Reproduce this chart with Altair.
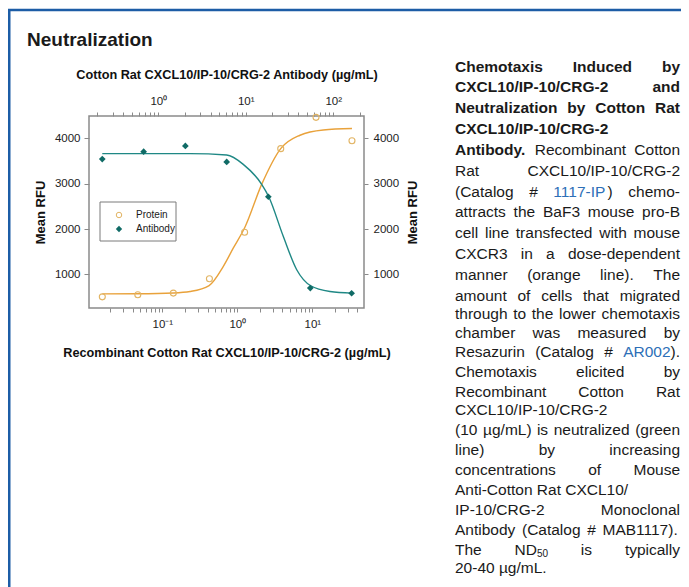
import re
import altair as alt
import pandas as pd

# ---------------- data ----------------
protein_conc = [0.0158, 0.047, 0.14, 0.424, 1.25, 3.79, 11.2, 33.8]
protein_rfu = [506, 551, 588, 904, 1928, 3771, 4460, 3944]
antibody_conc = [0.229, 0.68, 2.04, 6.05, 18.1, 54.6, 162]
antibody_rfu = [3542, 3705, 3830, 3478, 2711, 699, 585]

# fitted curves
protein_fit_conc = [0.0158, 0.047, 0.14, 0.234, 0.42, 0.65, 0.885, 1.27, 2.11, 3.79, 6.85, 14.0, 33.8]
protein_fit_rfu = [572, 575, 592, 624, 755, 1177, 1583, 2050, 2983, 3772, 4066, 4183, 4214]
antibody_fit_conc = [0.229, 2.30, 6.05, 9.36, 15.2, 18.3, 26.8, 38.2, 55.2, 91.7, 163.6]
antibody_fit_rfu = [3661, 3661, 3630, 3425, 2983, 2711, 1840, 1103, 750, 624, 588]

bottom_ticks = [0.02, 0.03, 0.04, 0.05, 0.06, 0.07, 0.08, 0.09,
                0.1, 0.2, 0.3, 0.4, 0.5, 0.6, 0.7, 0.8, 0.9,
                1, 2, 3, 4, 5, 6, 7, 8, 9, 10, 20, 30, 40]
top_ticks = [0.2, 0.3, 0.4, 0.5, 0.6, 0.7, 0.8, 0.9,
             1, 2, 3, 4, 5, 6, 7, 8, 9,
             10, 20, 30, 40, 50, 60, 70, 80, 90, 100, 200]
y_ticks = [1000, 2000, 3000, 4000]

legend_labels = ["Protein", "Antibody"]
heading = "Neutralization"
top_title = "Cotton Rat CXCL10/IP-10/CRG-2 Antibody (\u00b5g/mL)"
bottom_title = "Recombinant Cotton Rat CXCL10/IP-10/CRG-2 (\u00b5g/mL)"
y_title = "Mean RFU"

# caption: (base style, line text, justified)  *bold*  [link]  {subscript}
body_lines = [
    ("b", "Chemotaxis Induced by", True),
    ("b", "CXCL10/IP-10/CRG-2 and", True),
    ("b", "Neutralization by Cotton Rat", True),
    ("b", "CXCL10/IP-10/CRG-2", False),
    ("r", "*Antibody.* Recombinant Cotton", True),
    ("r", "Rat CXCL10/IP-10/CRG-2", True),
    ("r", "(Catalog # [1117-IP]) chemo-", True),
    ("r", "attracts the BaF3 mouse pro-B", True),
    ("r", "cell line transfected with mouse", True),
    ("r", "CXCR3 in a dose-dependent", True),
    ("r", "manner (orange line). The", True),
    ("r", "amount of cells that migrated", True),
    ("r", "through to the lower chemotaxis", True),
    ("r", "chamber was measured by", True),
    ("r", "Resazurin (Catalog # [AR002]).", True),
    ("r", "Chemotaxis elicited by", True),
    ("r", "Recombinant Cotton Rat", True),
    ("r", "CXCL10/IP-10/CRG-2", False),
    ("r", "(10 \u00b5g/mL) is neutralized (green", True),
    ("r", "line) by increasing", True),
    ("r", "concentrations of Mouse", True),
    ("r", "Anti-Cotton Rat CXCL10/", False),
    ("r", "IP-10/CRG-2 Monoclonal", True),
    ("r", "Antibody (Catalog # MAB1117).", True),
    ("r", "The ND{50} is typically", True),
    ("r", "20-40 \u00b5g/mL.", False),
]
line_y = [66.7, 87.3, 108.3, 129, 150, 170.7, 191.7, 212.3, 233.3, 254, 275,
          295.7, 314, 332.7, 351.7, 371.7, 391.7, 410, 430, 450, 470, 490,
          510, 530, 550, 568.3]

# ---------------- styling ----------------
ORANGE_LINE = "#e9a23b"
ORANGE_PT = "#e2b463"
TEAL_LINE = "#1f8885"
TEAL_PT = "#106b66"
FRAME = "#8a8a8a"
BLUE = "#1c5da6"
TEXT = "#1a1a1a"
LINK = "#2d6fb7"
SANS = "'Liberation Sans', Arial, sans-serif"

X0, Y0 = 89, 116      # plot-area origin on the page
PW, PH = 275, 192
SVG_W, SVG_H = 673, 579
BODY = 15.5
SUB = 10

# approximate Arial advance widths (1/1000 em) for caption layout
REG = {}
for chars, w in [("ijl", 222), (" !,./:;I[]ft", 278), ("()-r", 333), ("ckszvxyJ", 500),
                 ("FTZ", 611), ("ABEKPSVXY&", 667), ("CDHNRUw", 722), ("GOQ", 778),
                 ("Mm", 833), ("W", 944)]:
    for c in chars:
        REG[c] = w
BLD = {}
for chars, w in [(" ijl!,./:;I[]", 278), ("ft()-", 333), ("r", 389), ("z", 500),
                 ("acekvsxyJ", 556), ("bdghnopquFTZL", 611), ("EPSVXY", 667),
                 ("ABCDHKNRU&", 722), ("GOQw", 778), ("M", 833), ("m", 889), ("W", 944)]:
    for c in chars:
        BLD[c] = w


def text_width(s, style):
    table = BLD if style == "b" else REG
    size = SUB if style == "sub" else BODY
    return sum(table.get(ch, 556) for ch in s) * size / 1000.0


def parse_word(word, base):
    segs = []
    for m in re.finditer(r"\*([^*]+)\*|\[([^\]]+)\]|\{([^}]+)\}|([^*\[\]{}]+)", word):
        if m.group(1):
            segs.append((m.group(1), "b"))
        elif m.group(2):
            segs.append((m.group(2), "link"))
        elif m.group(3):
            segs.append((m.group(3), "sub"))
        else:
            segs.append((m.group(4), base))
    return segs


TEXT_LEFT, TEXT_RIGHT = 455, 680
rows = []
for i, (base, line, just) in enumerate(body_lines):
    words = [parse_word(w, base) for w in line.split(" ")]
    widths = [sum(text_width(t, s) for t, s in segs) for segs in words]
    if just and len(words) > 1:
        gap = (TEXT_RIGHT - TEXT_LEFT - sum(widths)) / (len(words) - 1)
    else:
        gap = text_width(" ", base)
    x = TEXT_LEFT
    for segs, w in zip(words, widths):
        sx = x
        for t, s in segs:
            rows.append(dict(text=t, x=sx - X0, y=line_y[i] - Y0 + (4 if s == "sub" else 0), style=s))
            sx += text_width(t, s)
        x += w + gap
caption = pd.DataFrame(rows)

style_props = {
    "r": dict(fontWeight="normal", color=TEXT, fontSize=BODY),
    "b": dict(fontWeight="bold", color=TEXT, fontSize=BODY),
    "link": dict(fontWeight="normal", color=LINK, fontSize=BODY),
    "sub": dict(fontWeight="normal", color=TEXT, fontSize=SUB),
}
caption_layers = []
for st, props in style_props.items():
    sub = caption[caption["style"] == st]
    if len(sub) == 0:
        continue
    caption_layers.append(
        alt.Chart(sub).mark_text(align="left", baseline="middle", font=SANS, **props).encode(
            x=alt.X("x:Q", scale=None, axis=None),
            y=alt.Y("y:Q", scale=None, axis=None),
            text="text:N",
        )
    )

# ---------------- axes & scales ----------------
sup_expr = ("datum.value == 0.1 ? '10\u207b\u00b9' : datum.value == 1 ? '10\u2070' : "
            "datum.value == 10 ? '10\u00b9' : datum.value == 100 ? '10\u00b2' : ''")

ax_common = dict(domain=False, grid=False, tickColor=FRAME, tickWidth=1,
                 labelFont=SANS, labelFontSize=11.5, labelColor="#222",
                 titleFont=SANS, titleColor="#111", titleFontWeight="bold",
                 labelOverlap=False, labelFlush=False)

bottom_axis = alt.Axis(orient="bottom", values=bottom_ticks, labelExpr=sup_expr, tickSize=4,
                       labelPadding=6, title=bottom_title, titleFontSize=12.7, titlePadding=17,
                       **ax_common)
top_axis = alt.Axis(orient="top", values=top_ticks, labelExpr=sup_expr, tickSize=4,
                    labelPadding=6, title=top_title, titleFontSize=12.7, titlePadding=14,
                    **ax_common)
left_axis = alt.Axis(orient="left", values=y_ticks, format="d", tickSize=5, labelPadding=4,
                     title=y_title, titleFontSize=13, titlePadding=7, **ax_common)
right_axis = alt.Axis(orient="right", values=y_ticks, format="d", tickSize=4, labelPadding=5,
                      title=y_title, titleFontSize=13, titlePadding=8, titleAngle=270,
                      titleBaseline="top", **ax_common)

x_bottom = alt.Scale(type="log", domain=[0.0105, 48.9], nice=False)
x_top = alt.Scale(type="log", domain=[0.1615, 224.4], nice=False)
y_scale = alt.Scale(domain=[260, 4490], nice=False, zero=False)

protein_df = pd.DataFrame({"conc": protein_conc, "rfu": protein_rfu})
protein_fit_df = pd.DataFrame({"conc": protein_fit_conc, "rfu": protein_fit_rfu})
antibody_df = pd.DataFrame({"conc": antibody_conc, "rfu": antibody_rfu})
antibody_fit_df = pd.DataFrame({"conc": antibody_fit_conc, "rfu": antibody_fit_rfu})

px = alt.X("conc:Q", scale=x_bottom, axis=bottom_axis)
py = alt.Y("rfu:Q", scale=y_scale, axis=left_axis)
ax = alt.X("conc:Q", scale=x_top, axis=top_axis)
ay = alt.Y("rfu:Q", scale=y_scale, axis=right_axis)

protein_group = alt.layer(
    alt.Chart(protein_fit_df).mark_line(interpolate="monotone", color=ORANGE_LINE, strokeWidth=1.4).encode(x=px, y=py),
    alt.Chart(protein_df).mark_point(shape="circle", filled=False, color=ORANGE_PT, size=36,
                                     strokeWidth=1.1, opacity=1).encode(x=px, y=py),
)
antibody_group = alt.layer(
    alt.Chart(antibody_fit_df).mark_line(interpolate="monotone", color=TEAL_LINE, strokeWidth=1.4).encode(x=ax, y=ay),
    alt.Chart(antibody_df).mark_point(shape="diamond", filled=True, color=TEAL_PT, size=45,
                                      opacity=1).encode(x=ax, y=ay),
)

one = alt.Data(values=[{}])

# page decorations (positions relative to the plot-area origin)
top_bar = alt.Chart(one).mark_rule(color=BLUE, strokeWidth=2.5).encode(
    x=alt.value(8 - X0), x2=alt.value(681 - X0), y=alt.value(10 - Y0))
left_bar = alt.Chart(one).mark_rule(color=BLUE, strokeWidth=3).encode(
    x=alt.value(9 - X0), y=alt.value(9 - Y0), y2=alt.value(587 - Y0))
heading_mark = alt.Chart(one).mark_text(align="left", baseline="middle", font=SANS, fontSize=19,
                                        fontWeight="bold", color=TEXT).encode(
    x=alt.value(27 - X0), y=alt.value(40 - Y0), text=alt.value(heading))

# legend box
legend_box = alt.Chart(one).mark_rect(fill="white", stroke="#7a7a7a", strokeWidth=1).encode(
    x=alt.value(11), x2=alt.value(87), y=alt.value(86), y2=alt.value(125))
legend_circle = alt.Chart(one).mark_point(shape="circle", filled=False, color=ORANGE_PT, size=30,
                                          strokeWidth=1, opacity=1).encode(x=alt.value(30), y=alt.value(99))
legend_diamond = alt.Chart(one).mark_point(shape="diamond", filled=True, color=TEAL_PT, size=40,
                                           opacity=1).encode(x=alt.value(30), y=alt.value(113))
legend_t1 = alt.Chart(one).mark_text(align="left", baseline="middle", font=SANS, fontSize=10,
                                     color=TEXT).encode(x=alt.value(47), y=alt.value(99),
                                                        text=alt.value(legend_labels[0]))
legend_t2 = alt.Chart(one).mark_text(align="left", baseline="middle", font=SANS, fontSize=10,
                                     color=TEXT).encode(x=alt.value(47), y=alt.value(113),
                                                        text=alt.value(legend_labels[1]))

chart = alt.layer(
    protein_group, antibody_group,
    legend_box, legend_circle, legend_diamond, legend_t1, legend_t2,
    top_bar, left_bar, heading_mark, *caption_layers,
).resolve_scale(x="independent", y="independent").properties(
    width=PW, height=PH,
    padding={"left": X0 - 8, "top": Y0 - 8, "right": SVG_W - (X0 - 8) - PW,
             "bottom": SVG_H - (Y0 - 8) - PH},
    autosize=alt.AutoSizeParams(type="none"),
    background="white",
).configure_view(stroke=FRAME, strokeWidth=1.5)

chart.save("out.html", embed_options={"renderer": "svg", "actions": False})
